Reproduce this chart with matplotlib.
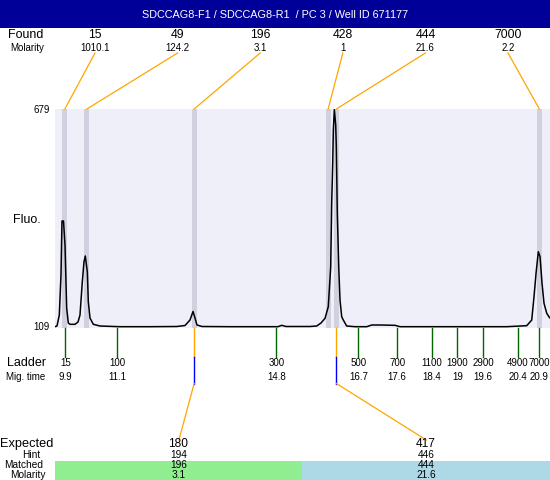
import matplotlib
matplotlib.use('Agg')
import matplotlib.pyplot as plt
from matplotlib.lines import Line2D
from matplotlib.patches import Rectangle

plt.rcParams['font.family'] = ['Liberation Sans', 'DejaVu Sans']

# ---------------- data ----------------
title = "SDCCAG8-F1 / SDCCAG8-R1  / PC 3 / Well ID 671177"

found_sizes = ['15', '49', '196', '428', '444', '7000']
found_molarity = ['1010.1', '124.2', '3.1', '1', '21.6', '2.2']
found_times = [9.89, 10.40, 12.89, 16.00, 16.19, 20.90]

ladder_sizes = ['15', '100', '300', '500', '700', '1100', '1900', '2900', '4900', '7000']
ladder_times = [9.9, 11.1, 14.8, 16.7, 17.6, 18.4, 19.0, 19.6, 20.4, 20.9]

expected = ['180', '417']
hint = ['194', '446']
matched = ['196', '444']
matched_molarity = ['3.1', '21.6']
matched_times = [12.89, 16.19]

fluo_min, fluo_max = 109, 679
time_min, time_max = 9.661, 21.148

trace_t = [9.661, 9.707, 9.761, 9.800, 9.823, 9.858, 9.893, 9.932, 9.970, 10.009,
           10.125, 10.195, 10.241, 10.295, 10.334, 10.364, 10.411, 10.434, 10.473, 10.550,
           10.705, 11.169, 11.866, 12.485, 12.678, 12.794, 12.864, 12.910, 12.956, 13.072,
           13.722, 14.418, 14.836, 14.922, 15.022, 15.579, 15.734, 15.834, 15.927, 16.003,
           16.059, 16.082, 16.106, 16.120, 16.143, 16.175, 16.189, 16.212, 16.245, 16.275,
           16.314, 16.351, 16.430, 16.623, 16.895, 17.011, 17.203, 17.551, 17.667, 18.596,
           19.524, 20.144, 20.608, 20.724, 20.777, 20.824, 20.877, 20.917, 20.963, 21.009,
           21.072, 21.132, 21.148]
trace_f = [112.4, 114.2, 142.8, 247.0, 387.5, 387.5, 325.0, 161.0, 122.0, 118.6,
           118.6, 124.6, 142.8, 229.5, 281.6, 296.4, 255.5, 177.5, 135.0, 118.6,
           114.2, 112.4, 112.4, 112.9, 115.5, 129.8, 152.0, 135.0, 116.8, 112.9,
           112.4, 112.4, 112.4, 116.0, 112.9, 112.9, 114.2, 122.0, 134.2, 164.4,
           268.5, 433.6, 538.5, 624.4, 677.7, 637.4, 580.9, 408.3, 268.5, 181.9,
           138.4, 129.8, 114.2, 112.4, 112.4, 116.8, 116.8, 116.0, 112.4, 112.4,
           112.4, 112.4, 115.0, 129.8, 190.5, 251.4, 307.6, 294.6, 225.3, 173.3,
           147.3, 136.8, 135.0]

# ---------------- styling ----------------
W, H = 550, 480
ORANGE = '#FFA500'
GREEN_TICK = '#006400'
BG = '#EFEFFA'
BAND = '#D0D0DF'

fig = plt.figure(figsize=(W / 100, H / 100), dpi=100)
fig.patch.set_facecolor('white')

# main trace axes (pixel box x 55..550, y 109..328)
ax = fig.add_axes([55 / W, (H - 328) / H, 495 / W, 219 / H])
ax.set_facecolor(BG)
ax.set_xlim(time_min, time_max)
ax.set_ylim(fluo_min, fluo_max)
for s in ax.spines.values():
    s.set_visible(False)
ax.set_xticks([])
ax.set_yticks([])

for t in found_times:
    ax.axvspan(t - 0.056, t + 0.056, color=BAND, lw=0, zorder=1)
ax.plot(trace_t, trace_f, color='black', lw=1.1, zorder=3)

# overlay axes in pixel coordinates
ov = fig.add_axes([0, 0, 1, 1], zorder=5)
ov.set_xlim(0, W)
ov.set_ylim(H, 0)
ov.axis('off')
ov.patch.set_alpha(0)


def tx(t):
    disp = ax.transData.transform((t, fluo_min))
    return ov.transData.inverted().transform(disp)[0]


# header
ov.add_patch(Rectangle((0, 0), W, 28, color='#000099', lw=0))
ov.text(W / 2, 14.5, title, color='white', ha='center', va='center', fontsize=7.8)

# Found row
ov.text(26, 35.5, 'Found', ha='center', va='center', fontsize=9)
ov.text(27, 48, 'Molarity', ha='center', va='center', fontsize=7)
for i, (sz, mol, t) in enumerate(zip(found_sizes, found_molarity, found_times)):
    lx = 95 + i * 82.6
    ov.text(lx, 35.5, sz, ha='center', va='center', fontsize=8.8)
    ov.text(lx, 48, mol, ha='center', va='center', fontsize=7)
    ov.add_line(Line2D([lx, tx(t)], [53, 109], color=ORANGE, lw=0.9))

# y labels
ov.text(49.5, 110, str(fluo_max), ha='right', va='center', fontsize=7)
ov.text(49.5, 327, str(fluo_min), ha='right', va='center', fontsize=7)
ov.text(27, 220, 'Fluo.', ha='center', va='center', fontsize=9)

# ladder
ov.text(27, 363, 'Ladder', ha='center', va='center', fontsize=9)
ov.text(26, 377, 'Mig. time', ha='center', va='center', fontsize=7)
for sz, t in zip(ladder_sizes, ladder_times):
    x = tx(t)
    ov.add_line(Line2D([x, x], [328, 356.5], color=GREEN_TICK, lw=1))
    ov.text(x, 363, sz, ha='center', va='center', fontsize=7)
    ov.text(x, 377, f'{t:g}', ha='center', va='center', fontsize=7)

# expected section
ov.add_patch(Rectangle((55, 461), 246.7, 19, color='#90EE90', lw=0))
ov.add_patch(Rectangle((301.7, 461), W - 301.7, 19, color='#ADD8E6', lw=0))
ov.text(27, 444, 'Expected', ha='center', va='center', fontsize=9.2)
ov.text(31, 455, 'Hint', ha='center', va='center', fontsize=7.3)
ov.text(24, 465.5, 'Matched', ha='center', va='center', fontsize=7.3)
ov.text(27.5, 475.5, 'Molarity', ha='center', va='center', fontsize=7.3)
centers = [178.4, 425.8]
for cx, e, h, m, mm, t in zip(centers, expected, hint, matched, matched_molarity, matched_times):
    x = tx(t)
    ov.add_line(Line2D([x, x], [328, 356.5], color=ORANGE, lw=1))
    ov.add_line(Line2D([x, x], [356.5, 383.5], color='#0000FF', lw=1))
    ov.add_line(Line2D([x, cx + 0.5], [383.5, 440], color=ORANGE, lw=0.9))
    ov.text(cx, 444, e, ha='center', va='center', fontsize=8.6)
    ov.text(cx, 455, h, ha='center', va='center', fontsize=7.3)
    ov.text(cx, 465.5, m, ha='center', va='center', fontsize=7.3)
    ov.text(cx, 475.5, mm, ha='center', va='center', fontsize=7.3)

fig.savefig('out.png', dpi=100)
